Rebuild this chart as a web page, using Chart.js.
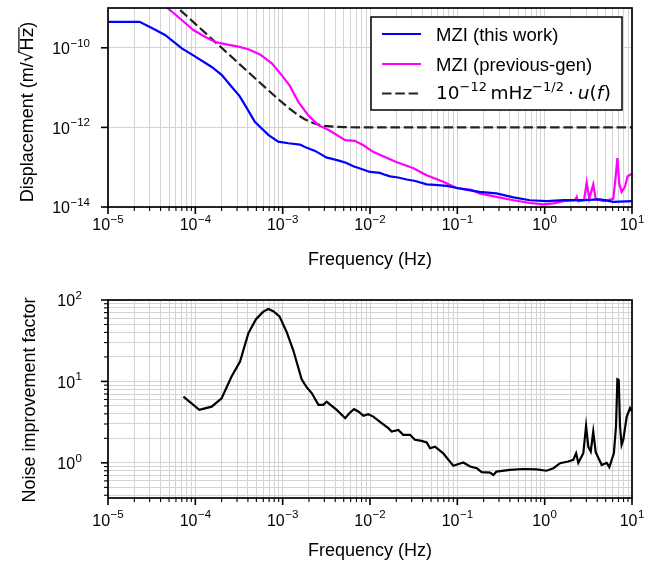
<!DOCTYPE html>
<html>
<head>
<meta charset="utf-8">
<script src="https://cdn.jsdelivr.net/npm/chart.js@4/dist/chart.umd.min.js"></script>
<style>
  html, body { margin: 0; padding: 0; background: #fff; }
  #wrap { position: relative; width: 657px; height: 561px; background: #fff; }
  canvas { position: absolute; left: 0; }
</style>
</head>
<body>
<div id="wrap">
  <canvas id="c1" width="657" height="280" style="top:0px"></canvas>
  <canvas id="c2" width="657" height="281" style="top:280px"></canvas>
</div>
<script>
// ---------------- DATA ----------------
const blueFreq = [1e-5, 2.3e-5, 3.3e-5, 4.5e-5, 7e-5, 1e-4, 1.54e-4, 2e-4, 2.6e-4, 3.2e-4, 3.9e-4, 4.8e-4, 6.9e-4, 8.9e-4, 1.16e-3, 1.58e-3, 1.8e-3, 2.35e-3, 3.2e-3, 3.5e-3, 4.5e-3, 5.3e-3, 6.45e-3, 8e-3, 1e-2, 1.3e-2, 1.5e-2, 1.7e-2, 2.1e-2, 2.63e-2, 3.3e-2, 4.45e-2, 5.5e-2, 7.6e-2, 9.85e-2, 0.13, 0.18, 0.28, 0.44, 0.68, 1.05, 1.64, 2.77, 4.3, 5.2, 6.1, 10];
const blueDisp = [4.5e-10, 4.5e-10, 3.0e-10, 2.1e-10, 9.7e-11, 6.0e-11, 3.3e-11, 2.1e-11, 1.05e-11, 6.2e-12, 3.0e-12, 1.38e-12, 6.4e-13, 4.4e-13, 4.0e-13, 3.7e-13, 3.2e-13, 2.57e-13, 1.74e-13, 1.66e-13, 1.44e-13, 1.3e-13, 1.06e-13, 9.0e-14, 7.6e-14, 7.2e-14, 6.4e-14, 5.9e-14, 5.5e-14, 4.9e-14, 4.5e-14, 3.7e-14, 3.6e-14, 3.4e-14, 3.0e-14, 2.7e-14, 2.4e-14, 2.2e-14, 1.74e-14, 1.48e-14, 1.4e-14, 1.48e-14, 1.48e-14, 1.55e-14, 1.45e-14, 1.35e-14, 1.4e-14];

const magFreq = [3e-5, 4.8e-5, 7e-5, 9.5e-5, 1.29e-4, 1.68e-4, 2.19e-4, 3.1e-4, 4.05e-4, 5.5e-4, 7.5e-4, 9.75e-4, 1.21e-3, 1.51e-3, 1.97e-3, 2.56e-3, 3.4e-3, 5.2e-3, 6.7e-3, 8.4e-3, 1.1e-2, 1.48e-2, 2.0e-2, 3.1e-2, 4.45e-2, 6.9e-2, 9.85e-2, 0.14, 0.18, 0.28, 0.44, 0.68, 0.97, 1.26, 1.64, 2.23, 2.33, 2.4, 2.82, 3.03, 3.24, 3.6, 3.84, 4.7, 6.1, 6.5, 6.8, 7.16, 7.6, 8.3, 8.9, 10];
const magDisp = [2.0e-9, 1.0e-9, 5.0e-10, 2.8e-10, 1.9e-10, 1.4e-10, 1.24e-10, 1.07e-10, 9.2e-11, 6.8e-11, 4.07e-11, 2.06e-11, 1.1e-11, 4.4e-12, 2.0e-12, 1.14e-12, 8.5e-13, 4.8e-13, 4.6e-13, 3.56e-13, 2.4e-13, 1.8e-13, 1.35e-13, 9.6e-14, 6.3e-14, 4.3e-14, 3.0e-14, 2.75e-14, 2.2e-14, 1.8e-14, 1.48e-14, 1.26e-14, 1.17e-14, 1.23e-14, 1.4e-14, 1.48e-14, 1.8e-14, 1.4e-14, 1.48e-14, 4.1e-14, 1.6e-14, 3.7e-14, 1.6e-14, 1.4e-14, 1.6e-14, 5.7e-14, 1.7e-13, 3.8e-14, 2.4e-14, 3.2e-14, 5.9e-14, 6.9e-14];

const reqFreq = [4e-5, 6e-5, 1e-4, 2e-4, 3e-4, 5e-4, 7e-4, 1e-3, 1.2e-3, 1.5e-3, 1.75e-3, 2e-3, 2.5e-3, 3e-3, 4e-3, 5e-3, 7e-3, 1e-2, 1e-1, 10];
const reqDisp = [2.5e-9, 1.11e-9, 4.0e-10, 1.0e-10, 4.45e-11, 1.6e-11, 8.2e-12, 4.12e-12, 2.95e-12, 2.04e-12, 1.645e-12, 1.414e-12, 1.187e-12, 1.094e-12, 1.031e-12, 1.013e-12, 1.003e-12, 1.001e-12, 1.0e-12, 1.0e-12];

const nifFreq = [7.3e-5, 1.11e-4, 1.54e-4, 2e-4, 2.6e-4, 3.25e-4, 4.05e-4, 4.95e-4, 6e-4, 6.86e-4, 7.8e-4, 9.2e-4, 1.11e-3, 1.32e-3, 1.65e-3, 1.88e-3, 2.15e-3, 2.57e-3, 2.92e-3, 3.19e-3, 3.5e-3, 4.16e-3, 5.2e-3, 5.8e-3, 6.56e-3, 7.35e-3, 8.4e-3, 9.56e-3, 1.09e-2, 1.36e-2, 1.62e-2, 1.77e-2, 2.11e-2, 2.4e-2, 2.87e-2, 3.27e-2, 3.9e-2, 4.46e-2, 4.87e-2, 5.55e-2, 6.9e-2, 7.9e-2, 9e-2, 0.117, 0.14, 0.167, 0.19, 0.237, 0.258, 0.28, 0.4, 0.57, 0.81, 1.05, 1.26, 1.5, 1.86, 2.13, 2.29, 2.43, 2.77, 2.98, 3.16, 3.37, 3.6, 3.84, 4.5, 5.13, 5.5, 6.2, 6.56, 6.8, 7.05, 7.3, 7.6, 7.95, 8.7, 9.5, 10];
const nifVal = [6.5, 4.47, 4.9, 6.2, 11.5, 17.5, 39, 58, 72, 77.6, 73, 63, 40.5, 24.3, 10.6, 8.5, 7.2, 5.15, 5.15, 5.65, 5.2, 4.47, 3.53, 4.07, 4.56, 4.27, 3.78, 3.96, 3.7, 3.07, 2.67, 2.42, 2.54, 2.21, 2.21, 1.92, 1.86, 1.78, 1.51, 1.58, 1.31, 1.09, 0.92, 1.01, 0.9, 0.86, 0.77, 0.76, 0.71, 0.78, 0.82, 0.84, 0.83, 0.8, 0.86, 0.99, 1.04, 1.09, 1.31, 1.0, 1.31, 2.85, 1.58, 1.38, 2.42, 1.35, 0.94, 1.0, 0.885, 1.31, 2.79, 10.6, 10.4, 2.79, 1.66, 1.92, 3.7, 4.7, 4.27];

// tick label exponents
const xLabelExps = [-5, -4, -3, -2, -1, 0, 1];
const topYLabelExps = [-14, -12, -10];
const botYLabelExps = [0, 1, 2];
const minorMults = [2, 3, 4, 5, 6, 7, 8, 9];
const botYLowMinor = [0.4, 0.5, 0.6, 0.7, 0.8, 0.9];

const legendLabels = ['MZI (this work)', 'MZI (previous-gen)'];
const xTitle = 'Frequency (Hz)';
const botYTitle = 'Noise improvement factor';

// ---------------- TICKS ----------------
const xTicks = [];
for (let e = -5; e <= 0; e++) {
  xTicks.push({ value: Math.pow(10, e), major: true });
  for (const m of minorMults) xTicks.push({ value: m * Math.pow(10, e), major: false });
}
xTicks.push({ value: 10, major: true });
const topYTicks = topYLabelExps.map(e => ({ value: Math.pow(10, e), major: true }));
const botYTicks = [];
for (const v of botYLowMinor) botYTicks.push({ value: v, major: false });
for (let e = 0; e <= 2; e++) {
  botYTicks.push({ value: Math.pow(10, e), major: true });
  if (e < 2) for (const m of minorMults) botYTicks.push({ value: m * Math.pow(10, e), major: false });
}

const F = '"Liberation Sans", Arial, Helvetica, sans-serif';
const M = '"DejaVu Sans", sans-serif';
const GRID = '#d4d4d4';

function pts(xs, ys) { return xs.map((x, i) => ({ x: x, y: ys[i] })); }

function drawPow(ctx, exp, x, baseline, align, bs, ss, raise) {
  const es = (exp < 0 ? '\u2212' : '') + Math.abs(exp);
  ctx.font = bs + 'px ' + F;
  const w1 = ctx.measureText('10').width;
  ctx.font = ss + 'px ' + F;
  const w2 = ctx.measureText(es).width;
  const gap = 0.5;
  const total = w1 + gap + w2;
  let x0 = x;
  if (align === 'center') x0 = x - total / 2;
  else if (align === 'right') x0 = x - total;
  ctx.textAlign = 'left';
  ctx.textBaseline = 'alphabetic';
  ctx.font = bs + 'px ' + F;
  ctx.fillText('10', x0, baseline);
  ctx.font = ss + 'px ' + F;
  ctx.fillText(es, x0 + w1 + gap, baseline - raise);
}

function drawRich(ctx, segs, x, y) {
  let cx = x;
  for (const s of segs) {
    cx += (s.pre || 0);
    ctx.font = s.font;
    ctx.fillText(s.t, cx, y - (s.dy || 0));
    cx += ctx.measureText(s.t).width;
  }
  return cx;
}

function decor(cfg) {
  return {
    id: 'decor' + cfg.name,
    afterDraw(chart) {
      const ctx = chart.ctx, a = chart.chartArea;
      const xs = chart.scales.x, ys = chart.scales.y;
      ctx.save();
      ctx.fillStyle = '#000';
      ctx.strokeStyle = '#000';
      // tick marks x
      for (const t of xTicks) {
        const p = xs.getPixelForValue(t.value);
        ctx.lineWidth = t.major ? 1.6 : 1.1;
        ctx.beginPath();
        ctx.moveTo(p, a.bottom);
        ctx.lineTo(p, a.bottom + (t.major ? 7 : 4));
        ctx.stroke();
      }
      // tick marks y
      for (const t of cfg.yTicks) {
        const p = ys.getPixelForValue(t.value);
        ctx.lineWidth = t.major ? 1.6 : 1.1;
        ctx.beginPath();
        ctx.moveTo(a.left, p);
        ctx.lineTo(a.left - (t.major ? 7 : 4), p);
        ctx.stroke();
      }
      // frame
      ctx.lineWidth = 1.7;
      ctx.strokeRect(a.left, a.top, a.right - a.left, a.bottom - a.top);
      // x tick labels
      for (const e of xLabelExps) {
        const p = xs.getPixelForValue(Math.pow(10, e));
        drawPow(ctx, e, p, a.bottom + cfg.xLabOff, 'center', 16, 11.5, 7.5);
      }
      // y tick labels
      for (const e of cfg.yLabelExps) {
        const p = ys.getPixelForValue(Math.pow(10, e));
        drawPow(ctx, e, cfg.yLabRight, p + 6.3, 'right', 16, 11.5, 7.5);
      }
      // x title
      ctx.font = '18px ' + F;
      ctx.textAlign = 'center';
      ctx.textBaseline = 'alphabetic';
      ctx.fillText(xTitle, (a.left + a.right) / 2, cfg.xTitleY);
      // y title
      ctx.save();
      ctx.translate(cfg.yTitleX, cfg.yTitleY);
      ctx.rotate(-Math.PI / 2);
      cfg.drawYTitle(ctx);
      ctx.restore();
      if (cfg.legend) cfg.legend(ctx);
      ctx.restore();
    }
  };
}

function drawTopYTitle(ctx) {
  const bl = 6.3;
  const segs = [
    { t: 'Displacement (m/', font: '18px ' + F },
    { t: '\u221A', font: '18px ' + M },
    { t: 'Hz', font: '18px ' + M },
    { t: ')', font: '18px ' + F }
  ];
  let total = 0, widths = [];
  for (const s of segs) { ctx.font = s.font; const w = ctx.measureText(s.t).width; widths.push(w); total += w; }
  ctx.textAlign = 'left';
  ctx.textBaseline = 'alphabetic';
  let x = -total / 2;
  const xs = [];
  for (let i = 0; i < segs.length; i++) { xs.push(x); ctx.font = segs[i].font; ctx.fillText(segs[i].t, x, bl); x += widths[i]; }
  ctx.font = '18px ' + M;
  const asc = ctx.measureText('\u221A').actualBoundingBoxAscent || 15;
  ctx.lineWidth = 1.2;
  ctx.beginPath();
  const yb = bl - asc + 0.6;
  ctx.moveTo(xs[1] + widths[1] - 1.5, yb);
  ctx.lineTo(xs[2] + widths[2] + 0.5, yb);
  ctx.stroke();
}

function drawBotYTitle(ctx) {
  ctx.font = '18px ' + F;
  ctx.textAlign = 'center';
  ctx.textBaseline = 'alphabetic';
  ctx.fillText(botYTitle, 0, 7);
}

function drawLegend(ctx) {
  const L = 371, T = 17, R = 622, B = 110;
  ctx.fillStyle = '#fff';
  ctx.fillRect(L, T, R - L, B - T);
  ctx.strokeStyle = '#000';
  ctx.lineWidth = 1.5;
  ctx.strokeRect(L, T, R - L, B - T);
  const rows = [
    { color: '#0000ff', dash: [], ly: 34, ty: 41 },
    { color: '#ff00ff', dash: [], ly: 64, ty: 71 },
    { color: '#222', dash: [9.5, 3.8], ly: 93.5, ty: 99 }
  ];
  rows.forEach((r, i) => {
    ctx.strokeStyle = r.color;
    ctx.lineWidth = 2.2;
    ctx.setLineDash(r.dash);
    ctx.beginPath();
    ctx.moveTo(382, r.ly);
    ctx.lineTo(421, r.ly);
    ctx.stroke();
    ctx.setLineDash([]);
  });
  ctx.fillStyle = '#000';
  ctx.textAlign = 'left';
  ctx.textBaseline = 'alphabetic';
  ctx.font = '18.5px ' + F;
  ctx.fillText(legendLabels[0], 436, 41);
  ctx.fillText(legendLabels[1], 436, 71);
  const big = '18.5px ' + M, sup = '13px ' + M, it = 'oblique 18.5px ' + M;
  drawRich(ctx, [
    { t: '10', font: big },
    { t: '\u221212', font: sup, dy: 8 },
    { t: 'mHz', font: big, pre: 3.5 },
    { t: '\u22121/2', font: sup, dy: 8 },
    { t: '\u00B7', font: big, pre: 4 },
    { t: 'u', font: it, pre: 4 },
    { t: '(', font: big },
    { t: 'f', font: it },
    { t: ')', font: big, pre: 0.5 }
  ], 436, 99);
}

function makeChart(canvas, datasets, yMin, yMax, yTicks, padTop, xHeight, cfg) {
  return new Chart(canvas.getContext('2d'), {
    type: 'line',
    data: { datasets: datasets },
    options: {
      responsive: false,
      animation: false,
      devicePixelRatio: 1,
      layout: { padding: { left: 0, right: 25, top: padTop, bottom: 0 } },
      plugins: { legend: { display: false }, tooltip: { enabled: false } },
      elements: { point: { radius: 0, hoverRadius: 0 }, line: { tension: 0 } },
      scales: {
        x: {
          type: 'logarithmic', min: 1e-5, max: 10,
          afterBuildTicks: s => { s.ticks = xTicks.map(t => ({ value: t.value })); },
          afterFit: s => { s.height = xHeight; },
          ticks: { display: false },
          grid: { color: GRID, lineWidth: 1, drawTicks: false },
          border: { display: false }
        },
        y: {
          type: 'logarithmic', min: yMin, max: yMax,
          afterBuildTicks: s => { s.ticks = yTicks.map(t => ({ value: t.value })); },
          afterFit: s => { s.width = 108; },
          ticks: { display: false },
          grid: { color: GRID, lineWidth: 1, drawTicks: false },
          border: { display: false }
        }
      }
    },
    plugins: [decor(cfg)]
  });
}

makeChart(document.getElementById('c1'), [
  { label: legendLabels[0], data: pts(blueFreq, blueDisp), borderColor: '#0000ff', borderWidth: 2.2, fill: false },
  { label: legendLabels[1], data: pts(magFreq, magDisp), borderColor: '#ff00ff', borderWidth: 2.2, fill: false },
  { label: 'requirement', data: pts(reqFreq, reqDisp), borderColor: '#222222', borderWidth: 2.2, borderDash: [9.5, 3.8], fill: false }
], 1e-14, 1e-9, topYTicks, 8, 73, {
  name: 'top', yTicks: topYTicks, yLabelExps: topYLabelExps, xLabOff: 23, yLabRight: 90,
  xTitleY: 265, yTitleX: 27, yTitleY: 112, drawYTitle: drawTopYTitle, legend: drawLegend
});

makeChart(document.getElementById('c2'), [
  { label: 'Noise improvement factor', data: pts(nifFreq, nifVal), borderColor: '#000000', borderWidth: 2.2, fill: false }
], 0.37, 100, botYTicks, 20, 63, {
  name: 'bot', yTicks: botYTicks, yLabelExps: botYLabelExps, xLabOff: 27.5, yLabRight: 82,
  xTitleY: 276, yTitleX: 28, yTitleY: 120, drawYTitle: drawBotYTitle, legend: null
});
</script>
</body>
</html>
